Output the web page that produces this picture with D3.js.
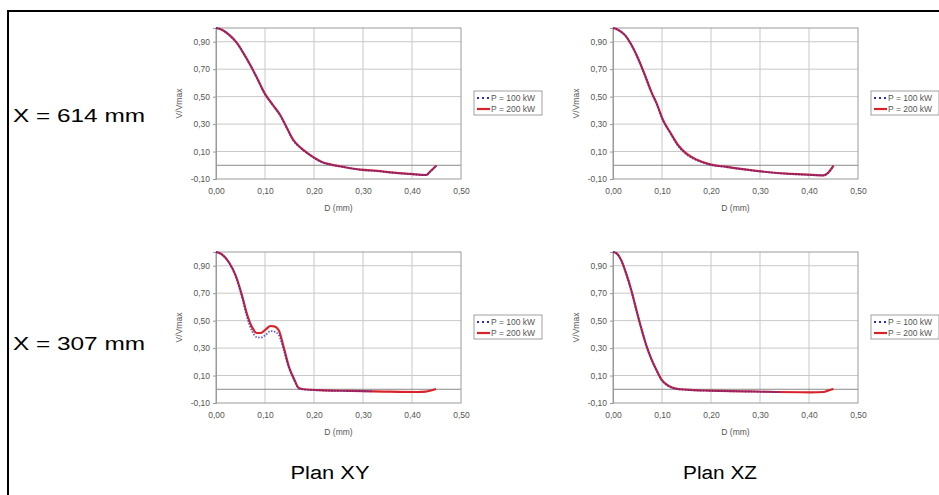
<!DOCTYPE html>
<html><head><meta charset="utf-8">
<script src="https://cdn.jsdelivr.net/npm/d3@7"></script>
<style>html,body{margin:0;padding:0;background:#fff;overflow:hidden}</style>
</head><body>
<svg id="c" width="939" height="495"></svg>
<script>
// ---- Data ----
const xTickValues = [0, 0.1, 0.2, 0.3, 0.4, 0.5];
const xTickLabels = ["0,00", "0,10", "0,20", "0,30", "0,40", "0,50"];
const yTickValues = [-0.1, 0.1, 0.3, 0.5, 0.7, 0.9];
const yTickLabels = ["-0,10", "0,10", "0,30", "0,50", "0,70", "0,90"];
const seriesNames = ["P = 100 kW", "P = 200 kW"];
const rowLabels = ["X = 614 mm", "X = 307 mm"];
const colLabels = ["Plan XY", "Plan XZ"];

// Plan XY, X = 614 mm
const D_xy614 = [0, 0.012, 0.027, 0.043, 0.056, 0.07, 0.084, 0.10, 0.116, 0.131, 0.145, 0.158, 0.172, 0.186, 0.20, 0.216, 0.233, 0.26, 0.295, 0.329, 0.363, 0.397, 0.429, 0.436, 0.45];
const P200_xy614 = [1.0, 0.988, 0.95, 0.89, 0.817, 0.73, 0.634, 0.52, 0.44, 0.366, 0.27, 0.183, 0.13, 0.09, 0.056, 0.024, 0.007, -0.012, -0.032, -0.041, -0.054, -0.063, -0.071, -0.049, -0.002];
const P100_xy614 = [1.0, 0.987, 0.948, 0.888, 0.815, 0.728, 0.632, 0.518, 0.438, 0.362, 0.268, 0.18, 0.128, 0.088, 0.054, 0.022, 0.005, -0.013, -0.033, -0.042, -0.055, -0.064, -0.072, -0.05, -0.003];

// Plan XZ, X = 614 mm
const D_xz614 = [0, 0.01, 0.024, 0.0375, 0.051, 0.065, 0.078, 0.089, 0.102, 0.116, 0.133, 0.15, 0.17, 0.198, 0.232, 0.273, 0.314, 0.355, 0.396, 0.43, 0.437, 0.45];
const P200_xz614 = [1.0, 0.988, 0.95, 0.878, 0.78, 0.658, 0.537, 0.451, 0.33, 0.244, 0.146, 0.085, 0.042, 0.007, -0.012, -0.032, -0.049, -0.061, -0.068, -0.073, -0.061, -0.002];
const P100_xz614 = [1.0, 0.987, 0.948, 0.876, 0.778, 0.655, 0.535, 0.448, 0.327, 0.24, 0.14, 0.078, 0.038, 0.005, -0.013, -0.033, -0.05, -0.062, -0.069, -0.074, -0.062, -0.003];

// Plan XY, X = 307 mm
const D_xy307 = [0, 0.012, 0.026, 0.04, 0.053, 0.063, 0.074, 0.083, 0.091, 0.101, 0.111, 0.119, 0.128, 0.138, 0.149, 0.159, 0.169, 0.179, 0.22, 0.275, 0.343, 0.411, 0.428, 0.449];
const P200_xy307 = [1.0, 0.983, 0.927, 0.83, 0.684, 0.55, 0.449, 0.41, 0.41, 0.434, 0.461, 0.458, 0.43, 0.308, 0.162, 0.077, 0.009, 0.0, -0.008, -0.012, -0.017, -0.02, -0.017, 0.002];
const D100_xy307 = [0, 0.012, 0.026, 0.04, 0.053, 0.063, 0.074, 0.083, 0.091, 0.101, 0.111, 0.119, 0.128, 0.138, 0.149, 0.159, 0.169, 0.179, 0.22, 0.275, 0.32];
const P100_xy307 = [1.0, 0.982, 0.925, 0.825, 0.675, 0.53, 0.42, 0.38, 0.376, 0.395, 0.424, 0.42, 0.395, 0.29, 0.155, 0.072, 0.006, -0.002, -0.009, -0.013, -0.015];

// Plan XZ, X = 307 mm
const D_xz307 = [0, 0.008, 0.017, 0.027, 0.0375, 0.048, 0.058, 0.068, 0.078, 0.089, 0.099, 0.113, 0.126, 0.15, 0.198, 0.266, 0.334, 0.402, 0.43, 0.44, 0.45];
const P200_xz307 = [1.0, 0.988, 0.939, 0.842, 0.72, 0.574, 0.441, 0.32, 0.223, 0.138, 0.07, 0.026, 0.007, -0.003, -0.01, -0.015, -0.02, -0.022, -0.02, -0.008, 0.002];
const D100_xz307 = [0, 0.008, 0.017, 0.027, 0.0375, 0.048, 0.058, 0.068, 0.078, 0.089, 0.099, 0.113, 0.126, 0.15, 0.198, 0.266, 0.34];
const P100_xz307 = [1.0, 0.987, 0.937, 0.84, 0.718, 0.572, 0.439, 0.318, 0.221, 0.136, 0.068, 0.024, 0.005, -0.004, -0.011, -0.016, -0.021];

// ---- Drawing ----
const svg = d3.select("#c");
const FONT = "'Liberation Sans', Arial, sans-serif";
const RED = "#d8232a", BLUE = "#2b2bd0";

// outer frame
svg.append("rect").attr("x", 8).attr("y", 11).attr("width", 1200).attr("height", 1200)
  .attr("fill", "none").attr("stroke", "#000").attr("stroke-width", 2);

const panels = [
  {x0: 216, y0: 28, d200: D_xy614, v200: P200_xy614, d100: D_xy614, v100: P100_xy614},
  {x0: 613, y0: 28, d200: D_xz614, v200: P200_xz614, d100: D_xz614, v100: P100_xz614},
  {x0: 216, y0: 252, d200: D_xy307, v200: P200_xy307, d100: D100_xy307, v100: P100_xy307},
  {x0: 613, y0: 252, d200: D_xz307, v200: P200_xz307, d100: D100_xz307, v100: P100_xz307}
];
const PW = 245, PH = 151;

panels.forEach(p => {
  const g = svg.append("g");
  const x = d3.scaleLinear().domain([0, 0.5]).range([p.x0, p.x0 + PW]);
  const y = d3.scaleLinear().domain([-0.1, 1.0]).range([p.y0 + PH, p.y0]);

  // gridlines
  g.append("g").selectAll("line.vg").data([0.1, 0.2, 0.3, 0.4]).join("line")
    .attr("x1", d => x(d)).attr("x2", d => x(d)).attr("y1", y(1)).attr("y2", y(-0.1))
    .attr("stroke", "#c8c8c8").attr("stroke-width", 1);
  g.append("g").selectAll("line.hg").data([0.1, 0.3, 0.5, 0.7, 0.9]).join("line")
    .attr("x1", x(0)).attr("x2", x(0.5)).attr("y1", d => y(d)).attr("y2", d => y(d))
    .attr("stroke", "#c8c8c8").attr("stroke-width", 1);
  // zero line
  g.append("line").attr("x1", x(0)).attr("x2", x(0.5)).attr("y1", y(0)).attr("y2", y(0))
    .attr("stroke", "#8a8a8a").attr("stroke-width", 1);
  // plot border
  g.append("rect").attr("x", x(0)).attr("y", y(1)).attr("width", x(0.5) - x(0)).attr("height", y(-0.1) - y(1))
    .attr("fill", "none").attr("stroke", "#9a9a9a").attr("stroke-width", 1);

  // y axis
  const ya = d3.axisLeft(y).tickValues(yTickValues).tickSize(3).tickPadding(3)
    .tickFormat((d, i) => yTickLabels[i]);
  const yg = g.append("g").attr("transform", `translate(${x(0)},0)`).call(ya);
  yg.select(".domain").attr("stroke", "#9a9a9a");
  yg.selectAll(".tick line").attr("stroke", "#9a9a9a");
  yg.selectAll("text").attr("fill", "#555").style("font-family", FONT).style("font-size", "8.5px");

  // x axis labels at bottom
  const xa = d3.axisBottom(x).tickValues(xTickValues).tickSize(0).tickPadding(9)
    .tickFormat((d, i) => xTickLabels[i]);
  const xg = g.append("g").attr("transform", `translate(0,${y(-0.1)})`).call(xa);
  xg.select(".domain").remove();
  xg.selectAll("text").attr("fill", "#555").style("font-family", FONT).style("font-size", "8.5px");

  // axis titles
  g.append("text").attr("x", (x(0) + x(0.5)) / 2).attr("y", y(-0.1) + 32)
    .attr("text-anchor", "middle").attr("fill", "#555").style("font-family", FONT).style("font-size", "8.5px")
    .text("D (mm)");
  g.append("text").attr("transform", `translate(${x(0) - 34},${(y(1) + y(-0.1)) / 2}) rotate(-90)`)
    .attr("text-anchor", "middle").attr("fill", "#555").style("font-family", FONT).style("font-size", "8.5px")
    .text("V/Vmax");

  // lines
  const line = d3.line().x(d => x(d[0])).y(d => y(d[1])).curve(d3.curveMonotoneX);
  g.append("path").datum(p.d200.map((d, i) => [d, p.v200[i]])).attr("d", line)
    .attr("fill", "none").attr("stroke", RED).attr("stroke-width", 2.2);
  g.append("path").datum(p.d100.map((d, i) => [d, p.v100[i]])).attr("d", line)
    .attr("fill", "none").attr("stroke", BLUE).attr("stroke-width", 1.8).attr("stroke-dasharray", "1.5,1.5")
    .attr("opacity", 0.75);

  // legend
  const lx = p.x0 + 258, ly = p.y0 + 63;
  const lg = g.append("g");
  lg.append("rect").attr("x", lx).attr("y", ly).attr("width", 68).attr("height", 24)
    .attr("fill", "#fff").attr("stroke", "#a0a0a0").attr("stroke-width", 1);
  lg.append("line").attr("x1", lx + 3).attr("x2", lx + 16).attr("y1", ly + 7).attr("y2", ly + 7)
    .attr("stroke", BLUE).attr("stroke-width", 1.8).attr("stroke-dasharray", "2,3");
  lg.append("line").attr("x1", lx + 3).attr("x2", lx + 16).attr("y1", ly + 18).attr("y2", ly + 18)
    .attr("stroke", RED).attr("stroke-width", 2.2);
  seriesNames.forEach((s, i) => {
    lg.append("text").attr("x", lx + 17).attr("y", ly + 10 + i * 11)
      .attr("fill", "#555").style("font-family", FONT).style("font-size", "8.5px").text(s);
  });
});

// row labels
rowLabels.forEach((t, i) => {
  svg.append("text").attr("x", 13).attr("y", [122, 350][i])
    .style("font-family", FONT).style("font-size", "18px").attr("fill", "#000")
    .attr("textLength", 132).attr("lengthAdjust", "spacingAndGlyphs").text(t);
});
// column labels
colLabels.forEach((t, i) => {
  svg.append("text").attr("x", [330, 720][i]).attr("y", 479).attr("text-anchor", "middle")
    .style("font-family", FONT).style("font-size", "18px").attr("fill", "#000")
    .attr("textLength", [79, 74][i]).attr("lengthAdjust", "spacingAndGlyphs").text(t);
});
</script>
</body></html>
